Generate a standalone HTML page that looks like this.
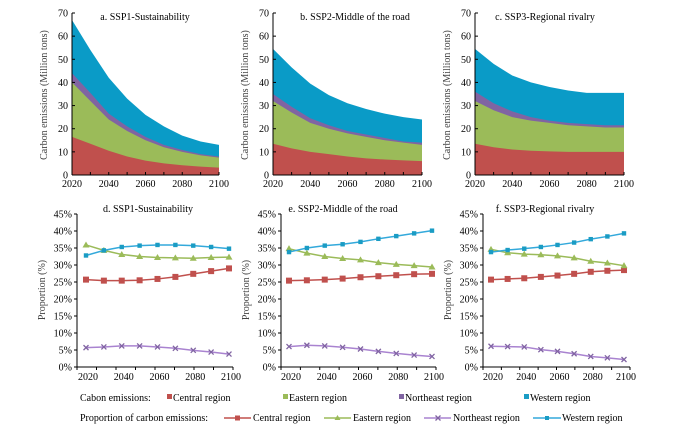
<!DOCTYPE html>
<html><head><meta charset="utf-8"><style>
body{margin:0;background:#fff;width:693px;height:430px;overflow:hidden}
svg{font-family:"Liberation Serif",serif;}
</style></head><body>
<svg id="s" width="693" height="430" xmlns="http://www.w3.org/2000/svg">
<text x="145" y="20" font-size="10" text-anchor="middle">a. SSP1-Sustainability</text>
<text x="355" y="20" font-size="10" text-anchor="middle">b. SSP2-Middle of the road</text>
<text x="545" y="20" font-size="10" text-anchor="middle">c. SSP3-Regional rivalry</text>
<text x="148" y="212" font-size="10" text-anchor="middle">d. SSP1-Sustainability</text>
<text x="343" y="212" font-size="10" text-anchor="middle">e. SSP2-Middle of the road</text>
<text x="545" y="212" font-size="10" text-anchor="middle">f. SSP3-Regional rivalry</text>
<g font-size="10">
<text x="80" y="401">Cabon emissions:</text>
<rect x="167" y="394" width="5" height="5" fill="#c0504d"/><text x="173" y="401">Central region</text>
<rect x="283" y="394" width="5" height="5" fill="#9bbb59"/><text x="289" y="401">Eastern region</text>
<rect x="399" y="394" width="5" height="5" fill="#8064a2"/><text x="405" y="401">Northeast region</text>
<rect x="524" y="394" width="5" height="5" fill="#1a9cc4"/><text x="530" y="401">Western region</text>
<text x="80" y="421">Proportion of carbon emissions:</text>
<line x1="224" y1="418" x2="251" y2="418" stroke="#c0504d" stroke-width="1.5"/><rect x="235" y="415.5" width="5" height="5" fill="#c0504d"/><text x="253" y="421">Central region</text>
<line x1="324" y1="418" x2="351" y2="418" stroke="#9bbb59" stroke-width="1.5"/><path d="M337.5 415 L340.5 420 L334.5 420Z" fill="#9bbb59"/><text x="353" y="421">Eastern region</text>
<line x1="424" y1="418" x2="451" y2="418" stroke="#a983d0" stroke-width="1.5"/><path d="M435.5 415.5 L440.5 420.5 M440.5 415.5 L435.5 420.5" stroke="#8064a2" stroke-width="1.3"/><text x="453" y="421">Northeast region</text>
<line x1="533" y1="418" x2="561" y2="418" stroke="#33a9db" stroke-width="1.5"/><rect x="545" y="416" width="4" height="4" fill="#1a9cc4"/><text x="562" y="421">Western region</text>
</g>
</svg>
<script>
var s=document.getElementById('s'),NS='http://www.w3.org/2000/svg';
function el(t,a,txt){var e=document.createElementNS(NS,t);for(var k in a)e.setAttribute(k,a[k]);if(txt!=null)e.textContent=txt;s.appendChild(e);return e;}
var top3=[
{x0:72,x1:219,d:[[16.5,13.5,10.5,8,6.2,5,4.2,3.6,3.2],[40,32,24,19,15,12,10,8.5,7.5],[44,35.5,26.5,21,16.5,13,10.8,9,8],[67,54,42,33,26,21,17,14.5,13]]},
{x0:273,x1:422,d:[[13.5,11.5,10,9,8,7.2,6.7,6.3,6],[32,27,22.5,20,18,16.5,15,14,13],[35,29.5,24.5,21.5,19,17.5,16,14.5,14],[54.5,46.5,39.5,34.5,31,28.5,26.5,25,24]]},
{x0:475,x1:624,d:[[13.5,12,11,10.5,10.2,10,10,10,10],[32,28,25,23.5,22.5,21.5,21,20.5,20.5],[36,31,27.5,25,23.5,22.5,22,21.5,21.5],[54.5,48,43,40,38,36.5,35.5,35.5,35.5]]}];
var ac=['#c0504d','#9bbb59','#8064a2','#0a9bc7'];
var yT=13,yB=175;
top3.forEach(function(p){
 function X(i){return p.x0+(p.x1-p.x0)*i/8}function Y(v){return yB-(yB-yT)*v/70}
 for(var k=3;k>=0;k--){var pts=p.d[k].map(function(v,i){return X(i)+','+Y(v)});
  el('polygon',{points:X(0)+','+yB+' '+pts.join(' ')+' '+X(8)+','+yB,fill:ac[k]});}
 el('line',{x1:p.x0,y1:yT,x2:p.x0,y2:yB,stroke:'#000','stroke-width':1});
 el('line',{x1:p.x0,y1:yB,x2:p.x1,y2:yB,stroke:'#000','stroke-width':1});
 for(var v=0;v<=70;v+=10){el('line',{x1:p.x0,y1:Y(v),x2:p.x0+3,y2:Y(v),stroke:'#000'});el('text',{x:p.x0-4,y:Y(v)+3.5,'font-size':10,'text-anchor':'end'},v);}
 for(var i=0;i<=8;i++){el('line',{x1:X(i),y1:yB,x2:X(i),y2:yB-3,stroke:'#000'});}
 for(var i=0;i<=8;i+=2){el('text',{x:X(i),y:yB+12,'font-size':10,'text-anchor':'middle'},2020+i*10);}
 el('text',{transform:'translate('+(p.x0-25)+',95) rotate(-90)','font-size':10,'text-anchor':'middle',fill:'#444'},'Carbon emissions  (Million  tons)');
});
var bot=[
{ax:77,ae:233,p0:86,p1:229,d:[[25.7,25.4,25.4,25.5,25.9,26.5,27.4,28.2,29.0],[35.9,34.3,33.1,32.5,32.2,32.1,32.0,32.2,32.3],[5.7,5.9,6.2,6.2,5.9,5.5,4.9,4.4,3.8],[32.8,34.3,35.3,35.7,35.9,35.9,35.7,35.3,34.8]]},
{ax:281,ae:436,p0:289,p1:432,d:[[25.4,25.5,25.7,26,26.4,26.7,27,27.3,27.4],[34.8,33.5,32.5,31.9,31.5,30.7,30.2,29.8,29.4],[6,6.4,6.2,5.8,5.3,4.6,4,3.5,3.1],[33.8,35,35.7,36.1,36.8,37.7,38.5,39.3,40.1]]},
{ax:483,ae:630,p0:491,p1:624,d:[[25.7,25.9,26.1,26.5,26.9,27.4,28,28.3,28.5],[34.6,33.6,33.2,33,32.7,32.1,31.1,30.6,29.8],[6.1,6,5.9,5.1,4.6,3.9,3.1,2.7,2.2],[33.8,34.4,34.8,35.3,35.9,36.6,37.6,38.4,39.3]]}];
var lc=['#c0504d','#9bbb59','#a983d0','#33a9db'],mc=['#c0504d','#9bbb59','#8064a2','#1a9cc4'];
var bT=214,bB=367;
bot.forEach(function(p){
 function X(i){return p.p0+(p.p1-p.p0)*i/8}function Y(v){return bB-(bB-bT)*v/45}
 el('line',{x1:p.ax,y1:bT,x2:p.ax,y2:bB,stroke:'#000'});
 el('line',{x1:p.ax,y1:bB,x2:p.ae,y2:bB,stroke:'#000'});
 for(var v=0;v<=45;v+=5){el('line',{x1:p.ax-3,y1:Y(v),x2:p.ax,y2:Y(v),stroke:'#000'});el('text',{x:p.ax-5,y:Y(v)+3.5,'font-size':10,'text-anchor':'end'},v+'%');}
 for(var j=0;j<=8;j++){var tx=p.ax+(p.ae-p.ax)*j/8;el('line',{x1:tx,y1:bB,x2:tx,y2:bB+3,stroke:'#000'});}
 for(var i=0;i<=8;i+=2){el('text',{x:X(i)+2,y:bB+13,'font-size':10,'text-anchor':'middle'},2020+i*10);}
 el('text',{transform:'translate('+(p.ax-32)+',290) rotate(-90)','font-size':10,'text-anchor':'middle',fill:'#444'},'Proportion (%)');
 p.d.forEach(function(ser,k){
  el('polyline',{points:ser.map(function(v,i){return X(i)+','+Y(v)}).join(' '),fill:'none',stroke:lc[k],'stroke-width':1.5});
  ser.forEach(function(v,i){var x=X(i),y=Y(v);
   if(k==0)el('rect',{x:x-3,y:y-3,width:6,height:6,fill:mc[0]});
   else if(k==1)el('path',{d:'M'+x+' '+(y-3.5)+' L'+(x+3.5)+' '+(y+2.5)+' L'+(x-3.5)+' '+(y+2.5)+'Z',fill:mc[1]});
   else if(k==2)el('path',{d:'M'+(x-2.5)+' '+(y-2.5)+' L'+(x+2.5)+' '+(y+2.5)+' M'+(x+2.5)+' '+(y-2.5)+' L'+(x-2.5)+' '+(y+2.5),stroke:mc[2],'stroke-width':1.3});
   else el('rect',{x:x-2.2,y:y-2.2,width:4.4,height:4.4,fill:mc[3]});
  });
 });
});
</script>
</body></html>
